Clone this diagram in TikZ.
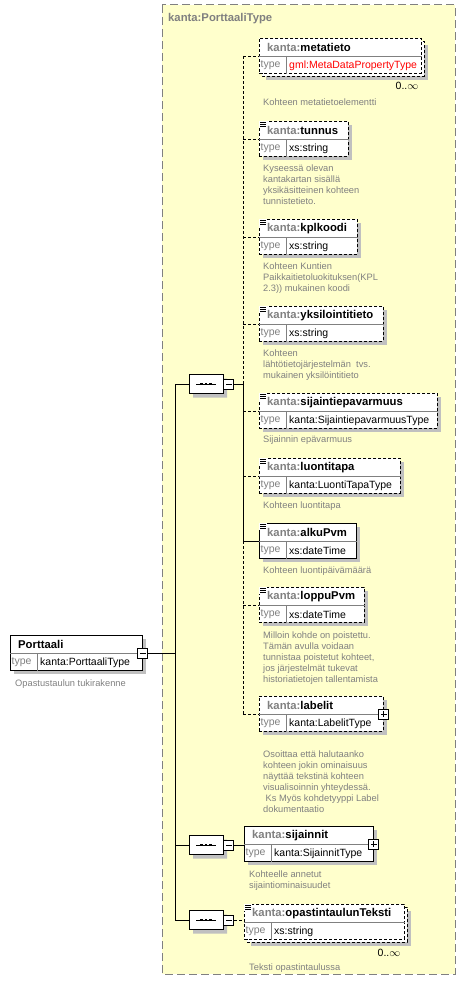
\documentclass[tikz,border=0pt]{standalone}
\usepackage{fontspec}
\setmainfont{Liberation Sans}
\usetikzlibrary{positioning,shapes.misc,shadows}
\definecolor{paneyellow}{HTML}{FFFFCC}
\definecolor{kgray}{HTML}{808080}
\definecolor{shadowgray}{HTML}{C0C0C0}
\newcommand{\kname}[1]{\textcolor{kgray}{kanta:}#1}
\begin{document}
\begin{tikzpicture}[x=1pt, y=-1pt,
    pane/.style={draw=kgray, fill=paneyellow, line width=1pt, dash pattern=on 8pt off 4pt},
    title/.style={anchor=west, inner sep=0pt, text=kgray, font=\fontsize{11.3}{13}\selectfont\bfseries},
    elbox/.style={draw, fill=white, anchor=north west, minimum height=35pt, inner sep=0pt, line width=0.8pt},
    optional/.style={dash pattern=on 3pt off 2pt},
    required/.style={},
    hdtext/.style={anchor=west, inner sep=0pt, font=\fontsize{11.3}{13}\selectfont\bfseries},
    tytext/.style={anchor=west, inner sep=0pt, text=kgray, font=\fontsize{10.5}{12}\selectfont},
    vtext/.style={anchor=west, inner sep=0pt, font=\fontsize{10.5}{12}\selectfont},
    divider/.style={draw=kgray, line width=0.6pt},
    note/.style={anchor=north west, inner sep=0pt, align=left, text=kgray, font=\fontsize{9.3}{11}\selectfont},
    mult/.style={inner sep=0pt, font=\fontsize{10.5}{12}\selectfont},
    seq/.style={chamfered rectangle, chamfered rectangle xsep=5pt, draw, fill=white, minimum width=34pt, minimum height=19pt, inner sep=0pt, line width=0.8pt, drop shadow={shadow xshift=4pt, shadow yshift=-4pt, fill=shadowgray, opacity=1}},
    toggle/.style={draw, fill=white, minimum size=10pt, inner sep=0pt, line width=0.8pt},
    minus/.style={toggle, path picture={\draw[line width=0.8pt] ([xshift=2pt]path picture bounding box.west) -- ([xshift=-2pt]path picture bounding box.east);}},
    plus/.style={toggle, path picture={\draw[line width=0.8pt] ([xshift=2pt]path picture bounding box.west) -- ([xshift=-2pt]path picture bounding box.east) ([yshift=-2pt]path picture bounding box.north) -- ([yshift=2pt]path picture bounding box.south);}},
    link/.style={line width=0.8pt}
  ]
  \useasboundingbox (0,0) rectangle (465,990);

  % Type pane
  \draw[pane] (162,5) rectangle (455,974);
  \node[title] (pane-title) at (168,19) {kanta:PorttaaliType};

  % Element boxes: name/x/y/width/shadow/border/label/type
  \def\elems{
    porttaali/10/635/132/4/required/{Porttaali}/{kanta:PorttaaliType},
    metatieto/259/38/162/7/optional/{\kname{metatieto}}/{\color{red}gml:MetaDataPropertyType},
    tunnus/259/121/89/4/optional/{\kname{tunnus}}/{xs:string},
    kplkoodi/259/219/98/4/optional/{\kname{kplkoodi}}/{xs:string},
    yksilointitieto/259/306/124/4/optional/{\kname{yksilointitieto}}/{xs:string},
    sijaintiepavarmuus/259/393/178/4/optional/{\kname{sijaintiepavarmuus}}/{kanta:SijaintiepavarmuusType},
    luontitapa/259/458/141/4/optional/{\kname{luontitapa}}/{kanta:LuontiTapaType},
    alkuPvm/259/523/97/4/required/{\kname{alkuPvm}}/{xs:dateTime},
    loppuPvm/259/587/105/4/optional/{\kname{loppuPvm}}/{xs:dateTime},
    labelit/259/696/124/4/optional/{\kname{labelit}}/{kanta:LabelitType},
    sijainnit/244/826/129/4/required/{\kname{sijainnit}}/{kanta:SijainnitType},
    opastintaulunTeksti/244/904/160/7/optional/{\kname{opastintaulunTeksti}}/{xs:string}}

  % Shadows and stacked frames
  \foreach \nm/\x/\y/\w/\sh/\bs/\lab/\typ in \elems
    \fill[shadowgray] (\x+\sh,\y+\sh) rectangle ++(\w,35);
  \draw[optional, fill=white, line width=0.8pt] (262,41) rectangle ++(162,35);
  \draw[optional, fill=white, line width=0.8pt] (247,907) rectangle ++(160,35);

  \foreach \nm/\x/\y/\w/\sh/\bs/\lab/\typ in \elems {
    \node[elbox, \bs, minimum width=\w pt] (\nm) at (\x,\y) {};
    \coordinate (\nm-c) at ([yshift=-18pt]\nm.north west);
    \draw[divider] (\nm-c) -- ([yshift=-18pt]\nm.north east);
    \draw[divider] ([xshift=27pt]\nm-c) -- ([xshift=27pt]\nm.south west);
    \node[hdtext] (\nm-lab) at ([xshift=8pt,yshift=-9.5pt]\nm.north west) {\lab};
    \node[tytext] (\nm-ty) at ([xshift=1.5pt,yshift=8.5pt]\nm.south west) {type};
    \node[vtext] (\nm-typ) at ([xshift=30pt,yshift=8.5pt]\nm.south west) {\typ};
  }

  % Simple content marks
  \foreach \nm in {tunnus, kplkoodi, yksilointitieto, sijaintiepavarmuus, luontitapa, alkuPvm, loppuPvm, opastintaulunTeksti} {
    \fill[white] ([xshift=-0.5pt,yshift=0.5pt]\nm.north west) rectangle ++(8,7);
    \foreach \k in {1,3,5}
      \draw[line width=0.8pt] ([xshift=1pt,yshift=-\k pt]\nm.north west) -- ++(6,0);
  }

  % Occurrences
  \node[mult] (metatieto-occ) at (407,86) {0..$\infty$};
  \node[mult] (opastintaulunTeksti-occ) at (389,953) {0..$\infty$};

  % Expand toggles
  \node[minus] (porttaali-m) at (porttaali-c -| porttaali.east) {};
  \node[plus] (labelit-p) at (labelit-c -| labelit.east) {};
  \node[plus] (sijainnit-p) at (sijainnit-c -| sijainnit.east) {};

  % Sequences
  \foreach \s/\y in {sq1/384, sq2/845, sq3/920} {
    \node[seq] (\s) at (206,\y) {};
    \draw[link] ([xshift=-10pt]\s.center) -- ([xshift=10pt]\s.center);
    \foreach \dx in {-4.5,0,4.5}
      \fill ([xshift=\dx pt]\s.center) +(-1.2,-1.3) rectangle +(1.2,1.3);
    \node[minus, right=0pt of \s] (\s-m) {};
  }

  % Trunk
  \coordinate (trunk) at (175,653);
  \draw[link] (porttaali-m.east) -- (trunk);
  \draw[link] (trunk |- sq1) -- (trunk |- sq3);
  \foreach \s in {sq1, sq2, sq3}
    \draw[link] (trunk |- \s) -- (\s.west);

  % Children of the first sequence
  \coordinate (hub1) at (243,384);
  \draw[link] (sq1-m.east) -- (hub1);
  \draw[link, optional] (hub1 |- metatieto-c) -- (hub1);
  \draw[link] (hub1) -- (hub1 |- alkuPvm-c);
  \draw[link, optional] (hub1 |- alkuPvm-c) -- (hub1 |- labelit-c);
  \foreach \nm/\bs in {metatieto/optional, tunnus/optional, kplkoodi/optional, yksilointitieto/optional, sijaintiepavarmuus/optional, luontitapa/optional, alkuPvm/required, loppuPvm/optional, labelit/optional}
    \draw[link, \bs] (hub1 |- \nm-c) -- (\nm-c);
  \draw[link] (sq2-m.east) -- (sq2-m.east -| sijainnit.west);
  \draw[link, optional] (sq3-m.east) -- (sq3-m.east -| opastintaulunTeksti.west);

  % Annotations
  \node[note] (porttaali-doc) at (15,679.5) {Opastustaulun tukirakenne};
  \node[note] (metatieto-doc) at (263,98.5) {Kohteen metatietoelementti};
  \node[note] (tunnus-doc) at (263,164.5) {Kyseessä olevan\\kantakartan sisällä\\yksikäsitteinen kohteen\\tunnistetieto.};
  \node[note] (kplkoodi-doc) at (263,262.5) {Kohteen Kuntien\\Paikkaitietoluokituksen(KPL\\2.3)) mukainen koodi};
  \node[note] (yksilointitieto-doc) at (263,349.5) {Kohteen\\lähtötietojärjestelmän\ \ tvs.\\mukainen yksilöintitieto};
  \node[note] (sijaintiepavarmuus-doc) at (263,435.5) {Sijainnin epävarmuus};
  \node[note] (luontitapa-doc) at (263,501.5) {Kohteen luontitapa};
  \node[note] (alkuPvm-doc) at (263,566.5) {Kohteen luontipäivämäärä};
  \node[note] (loppuPvm-doc) at (263,631.5) {Milloin kohde on poistettu.\\Tämän avulla voidaan\\tunnistaa poistetut kohteet,\\jos järjestelmät tukevat\\historiatietojen tallentamista};
  \node[note] (labelit-doc) at (263,750.5) {Osoittaa että halutaanko\\kohteen jokin ominaisuus\\näyttää tekstinä kohteen\\visualisoinnin yhteydessä.\\\hspace{2.5pt}Ks Myös kohdetyyppi Label\\dokumentaatio};
  \node[note] (sijainnit-doc) at (249,870.5) {Kohteelle annetut\\sijaintiominaisuudet};
  \node[note] (opastintaulunTeksti-doc) at (249,963.5) {Teksti opastintaulussa};
\end{tikzpicture}
\end{document}
